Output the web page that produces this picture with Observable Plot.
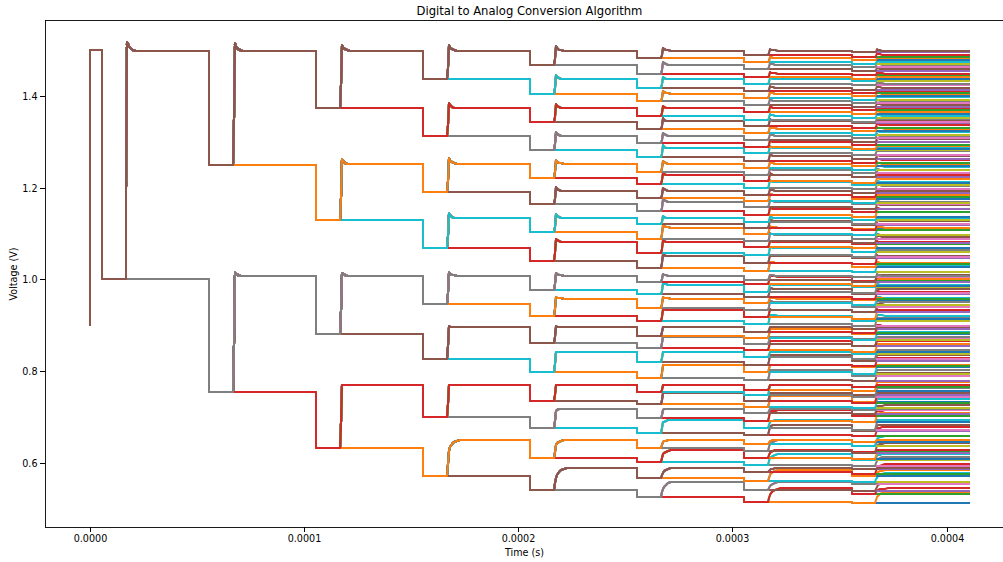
<!DOCTYPE html>
<html>
<head>
<meta charset="utf-8">
<script src="https://cdn.jsdelivr.net/npm/d3@7"></script>
<script src="https://cdn.jsdelivr.net/npm/@observablehq/plot@0.6"></script>
<style>
  body { margin: 0; background: #fff; font-family: "DejaVu Sans", sans-serif; }
  #title { margin-left: 45px; width: 969px; height: 18px; line-height: 22px; text-align: center; font-size: 11.6px; color: #000; white-space: nowrap; }
</style>
</head>
<body>
<div id="title">Digital to Analog Conversion Algorithm</div>
<div id="chart"></div>
<script>
// Successive-approximation DAC: 8 bit trials, 256 possible input codes.
// Each trial drops the output; when the bit is rejected the output is restored.

// Output before the conversion starts, and the reset level (V)
const startLevel = 0.9;
const resetLevel = 1.5;

// Timing of each bit trial and decision (microseconds)
const trialTimes    = [5.6, 55.6, 105.6, 155.6, 205.6, 255.6, 305.6, 355.6];
const decisionTimes = [16.7, 66.7, 116.7, 166.7, 216.7, 266.7, 316.7, 366.7];
const endTime = 410.4;

// Ringing height on a restoring edge, per bit (V)
const overshoot = [0.019, 0.016, 0.012, 0.012, 0.009, 0.006, 0.004, 0.003];

// Trial level reached for every branch (top branch first), and the level it
// settles back to when that bit is rejected.
const trial1   = [1.000];
const restore1 = [1.499];

const trial2   = [1.249, 0.755];
const restore2 = [1.499, 1.007];

const trial3   = [1.373, 1.129, 0.881, 0.631];
const restore3 = [1.499, 1.251, 1.007, 0.769];

const trial4   = [1.436, 1.312, 1.190, 1.069, 0.946, 0.826, 0.700, 0.571];
const restore4 = [1.499, 1.373, 1.252, 1.133, 1.008, 0.895, 0.769, 0.650];

const trial5   = [1.468, 1.404, 1.343, 1.283, 1.222, 1.164, 1.103, 1.041,
                  0.977, 0.920, 0.860, 0.798, 0.735, 0.675, 0.610, 0.540];
const restore5 = [1.499, 1.436, 1.373, 1.313, 1.252, 1.193, 1.133, 1.081,
                  1.008, 0.958, 0.895, 0.841, 0.769, 0.718, 0.650, 0.589];

const trial6   = [1.482, 1.449, 1.418, 1.388, 1.356, 1.327, 1.297, 1.266,
                  1.235, 1.208, 1.178, 1.148, 1.120, 1.089, 1.058, 1.025,
                  0.995, 0.967, 0.938, 0.908, 0.877, 0.851, 0.819, 0.785,
                  0.753, 0.728, 0.697, 0.665, 0.631, 0.601, 0.566, 0.526];
const restore6 = [1.499, 1.468, 1.436, 1.405, 1.373, 1.345, 1.313, 1.286,
                  1.252, 1.227, 1.193, 1.169, 1.133, 1.113, 1.081, 1.050,
                  1.008, 0.988, 0.958, 0.933, 0.895, 0.874, 0.841, 0.813,
                  0.769, 0.752, 0.718, 0.693, 0.650, 0.628, 0.589, 0.558];

const trial7   = [1.490, 1.474, 1.459, 1.441, 1.427, 1.410, 1.396, 1.380,
                  1.364, 1.348, 1.335, 1.319, 1.304, 1.289, 1.276, 1.258,
                  1.243, 1.227, 1.215, 1.200, 1.184, 1.170, 1.157, 1.140,
                  1.124, 1.112, 1.099, 1.083, 1.071, 1.052, 1.036, 1.019,
                  0.998, 0.989, 0.973, 0.961, 0.948, 0.932, 0.917, 0.902,
                  0.885, 0.871, 0.858, 0.845, 0.830, 0.813, 0.797, 0.780,
                  0.759, 0.747, 0.734, 0.722, 0.708, 0.691, 0.675, 0.660,
                  0.640, 0.625, 0.610, 0.595, 0.579, 0.560, 0.540, 0.515];
const restore7 = [1.499, 1.482, 1.468, 1.449, 1.436, 1.418, 1.405, 1.389,
                  1.373, 1.357, 1.345, 1.329, 1.313, 1.299, 1.286, 1.269,
                  1.252, 1.238, 1.227, 1.212, 1.193, 1.183, 1.169, 1.153,
                  1.133, 1.127, 1.113, 1.097, 1.081, 1.068, 1.050, 1.036,
                  1.008, 1.006, 0.988, 0.979, 0.958, 0.951, 0.933, 0.921,
                  0.895, 0.891, 0.874, 0.865, 0.841, 0.834, 0.813, 0.801,
                  0.769, 0.769, 0.752, 0.745, 0.718, 0.714, 0.693, 0.683,
                  0.650, 0.649, 0.628, 0.619, 0.589, 0.584, 0.558, 0.544];

const trial8   = [1.495, 1.486, 1.478, 1.470, 1.464, 1.455, 1.445, 1.437,
                  1.432, 1.423, 1.414, 1.406, 1.401, 1.392, 1.384, 1.376,
                  1.369, 1.360, 1.352, 1.344, 1.341, 1.331, 1.324, 1.315,
                  1.309, 1.300, 1.294, 1.285, 1.282, 1.272, 1.263, 1.254,
                  1.248, 1.239, 1.232, 1.223, 1.223, 1.211, 1.206, 1.196,
                  1.189, 1.180, 1.176, 1.166, 1.165, 1.153, 1.146, 1.136,
                  1.129, 1.120, 1.119, 1.108, 1.109, 1.096, 1.089, 1.080,
                  1.077, 1.068, 1.059, 1.049, 1.046, 1.033, 1.026, 1.016,
                  1.004, 0.995, 0.996, 0.986, 0.984, 0.970, 0.969, 0.958,
                  0.954, 0.945, 0.940, 0.929, 0.929, 0.914, 0.910, 0.899,
                  0.891, 0.882, 0.880, 0.868, 0.870, 0.855, 0.854, 0.842,
                  0.836, 0.827, 0.822, 0.810, 0.809, 0.794, 0.789, 0.777,
                  0.765, 0.756, 0.757, 0.744, 0.748, 0.731, 0.732, 0.719,
                  0.714, 0.705, 0.701, 0.688, 0.689, 0.672, 0.670, 0.657,
                  0.646, 0.637, 0.636, 0.622, 0.624, 0.607, 0.606, 0.592,
                  0.585, 0.576, 0.571, 0.557, 0.554, 0.537, 0.531, 0.512];
const restore8 = [1.499, 1.490, 1.482, 1.474, 1.468, 1.459, 1.449, 1.441,
                  1.436, 1.427, 1.418, 1.410, 1.405, 1.397, 1.389, 1.381,
                  1.373, 1.365, 1.357, 1.349, 1.345, 1.337, 1.329, 1.321,
                  1.313, 1.306, 1.299, 1.291, 1.286, 1.279, 1.269, 1.261,
                  1.252, 1.246, 1.238, 1.231, 1.227, 1.219, 1.212, 1.204,
                  1.193, 1.189, 1.183, 1.175, 1.169, 1.162, 1.153, 1.146,
                  1.133, 1.131, 1.127, 1.120, 1.113, 1.108, 1.097, 1.093,
                  1.081, 1.081, 1.068, 1.063, 1.050, 1.047, 1.036, 1.030,
                  1.008, 1.009, 1.006, 1.000, 0.988, 0.985, 0.979, 0.973,
                  0.958, 0.960, 0.951, 0.945, 0.933, 0.931, 0.921, 0.916,
                  0.895, 0.899, 0.891, 0.885, 0.874, 0.872, 0.865, 0.859,
                  0.841, 0.845, 0.834, 0.828, 0.813, 0.812, 0.801, 0.795,
                  0.769, 0.775, 0.769, 0.763, 0.752, 0.750, 0.745, 0.739,
                  0.718, 0.725, 0.714, 0.709, 0.693, 0.693, 0.683, 0.678,
                  0.650, 0.658, 0.649, 0.643, 0.628, 0.628, 0.619, 0.613,
                  0.589, 0.597, 0.584, 0.578, 0.558, 0.558, 0.544, 0.536];

// Axis ticks
const timeTicks = [0, 0.0001, 0.0002, 0.0003, 0.0004];
const voltTicks = [0.6, 0.8, 1.0, 1.2, 1.4];

const trials = [trial1, trial2, trial3, trial4, trial5, trial6, trial7, trial8];
const restores = [restore1, restore2, restore3, restore4, restore5, restore6, restore7, restore8];
const tab10 = d3.schemeCategory10;
const us = 1e-6;

// Shape of a restoring edge: time offsets (µs) after the decision, the share
// of the step still missing on a fast edge and on a slow (low-voltage) edge,
// and the share of the ringing height.
const edgeDt    = [0.35, 0.8, 1.4, 2.2, 3.2, 4.5, 6.0];
const edgeFast  = [0.6, 0, 0, 0, 0, 0, 0];
const edgeSlow  = [0.7, 0.5, 0.33, 0.2, 0.1, 0.04, 0];
const edgeRing  = [0, 1.0, 0.55, 0.25, 0.08, 0, 0];

const clamp01 = x => Math.max(0, Math.min(1, x));

// One waveform per input code; drawing order follows the code
const rows = [];
for (let code = 0; code < 256; code++) {
  const pts = [[0, startLevel], [0.02, resetLevel]];
  let v = resetLevel;
  let node = 0;
  for (let k = 0; k < 8; k++) {
    const rejected = (code >> (7 - k)) & 1;
    const low = trials[k][node];
    pts.push([trialTimes[k], v], [trialTimes[k], low]);
    if (rejected) {
      const hi = restores[k][node];
      const step = hi - low;
      const ring = overshoot[k] * clamp01((hi - 0.8) / 0.35);
      const slow = clamp01((0.76 - hi) / 0.18);
      const t0 = decisionTimes[k];
      pts.push([t0, low]);
      edgeDt.forEach((dt, j) => {
        const missing = (1 - slow) * edgeFast[j] + slow * edgeSlow[j];
        pts.push([t0 + dt, hi - step * missing + ring * edgeRing[j]]);
      });
      v = hi;
      node = 2 * node;
    } else {
      v = low;
      node = 2 * node + 1;
    }
  }
  pts.push([endTime, v]);
  for (const [t, y] of pts) rows.push({code, t: t * us, v: y});
}

const xDomain = [-21.0e-6, 426.3e-6];
const yDomain = [0.4595, 1.5658];

const chart = Plot.plot({
  width: 1003,
  height: 544,
  marginLeft: 45,
  marginRight: 0,
  marginTop: 2,
  marginBottom: 35,
  style: {fontFamily: "DejaVu Sans, sans-serif", fontSize: "9.6px", color: "#000", background: "#fff"},
  x: {domain: xDomain, range: [45, 1003], round: true},
  y: {domain: yDomain, round: true},
  marks: [
    // 2px strokes centred on whole pixels so stacked waveforms keep a clean top colour
    Plot.line(rows, {
      x: "t", y: "v", z: "code",
      stroke: d => tab10[d.code % 10],
      strokeWidth: 2,
      dx: -0.5, dy: -0.5,
      strokeLinejoin: "round",
      strokeLinecap: "square",
      clip: true
    }),
    Plot.ruleY([yDomain[1]], {stroke: "#000", strokeWidth: 0.9}),
    Plot.ruleY([yDomain[0]], {stroke: "#000", strokeWidth: 0.9}),
    Plot.ruleX([xDomain[0]], {stroke: "#000", strokeWidth: 0.9}),
    Plot.axisX({
      ticks: timeTicks, tickFormat: d3.format(".4f"), tickSize: 5, tickPadding: 3,
      label: "Time (s)", labelAnchor: "center", labelArrow: "none", labelOffset: 28
    }),
    Plot.axisY({
      ticks: voltTicks, tickFormat: d3.format(".1f"), tickSize: 5, tickPadding: 3,
      label: "Voltage (V)", labelAnchor: "center", labelArrow: "none", labelOffset: 35
    })
  ]
});
document.getElementById("chart").appendChild(chart);
</script>
</body>
</html>
